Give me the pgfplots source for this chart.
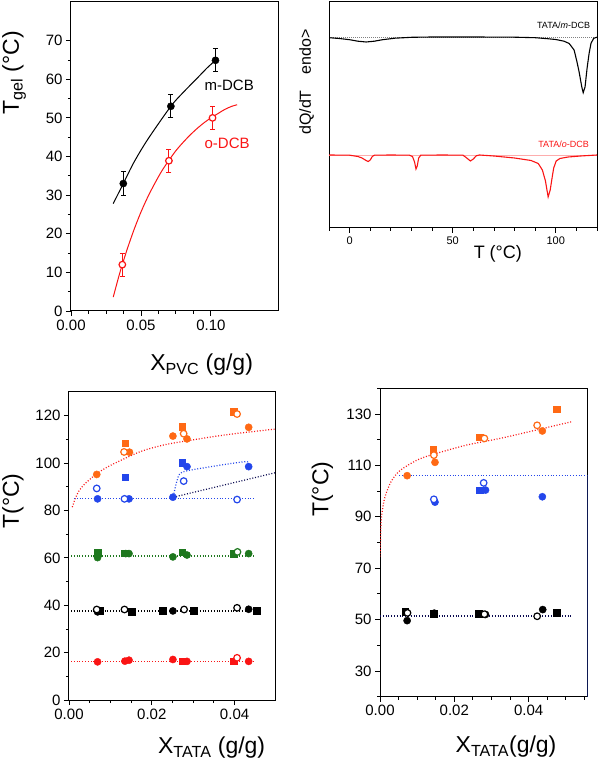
\documentclass[border=0pt]{standalone}
\usepackage{pgfplots}
\pgfplotsset{compat=1.18}
\usepackage{fontspec}
\setmainfont{Liberation Sans}
\definecolor{cor}{RGB}{255,105,20}
\definecolor{cbl}{RGB}{35,70,235}
\definecolor{cgr}{RGB}{30,120,30}
\definecolor{crd}{RGB}{250,20,20}
\definecolor{cnv}{RGB}{10,10,80}
\pgfplotsset{
  /pgf/number format/assume math mode=true,
  base/.style={scale only axis, axis line style={line width=1pt}, tick pos=left, tick align=outside,
    major tick length=5pt, minor tick length=3pt, every tick/.style={black, line width=0.8pt},
    tick label style={font=\fontsize{15}{18}\selectfont},
    label style={font=\fontsize{23}{27}\selectfont}},
  fx/.style={scaled x ticks=false, xticklabel style={/pgf/number format/fixed, /pgf/number format/fixed zerofill, /pgf/number format/precision=2}},
  fl/.style={only marks, mark=*, mark size=3.6pt, mark options={draw=#1, fill=#1}},
  sq/.style={only marks, mark=square*, mark size=3.3pt, mark options={draw=#1, fill=#1}},
  op/.style={only marks, mark=*, mark size=3.3pt, mark options={draw=#1, fill=white, line width=1.2pt}},
  dl/.style={draw=#1, line width=1.2pt, dash pattern=on 1pt off 1.8pt, no marks},
}
\begin{document}
\begin{tikzpicture}
\path[use as bounding box] (0,0) rectangle (600pt,764pt);
% ---------- Panel 1 ----------
\begin{axis}[base, fx, at={(71pt,453pt)}, anchor=south west, width=207pt, height=309pt,
  xmin=0, xmax=0.148, ymin=0, ymax=80,
  xtick={0,0.05,0.1}, minor x tick num=3,
  ytick={0,10,...,70}, minor y tick num=1,
  xlabel={X\textsubscript{PVC} (g/g)}, ylabel={T\textsubscript{gel} (°C)},
  xlabel style={at={(axis description cs:0.631,-0.1748)}, anchor=center},
  ylabel style={at={(axis description cs:-0.2754,0.77)}, anchor=center}]
\addplot[black, line width=1pt, smooth, no marks] coordinates {(0.0302,27.8)(0.0374,33)(0.045,38.5)(0.055,44.5)(0.0714,53)(0.08,56.5)(0.09,60.2)(0.0975,63)(0.1033,64.9)};
\addplot[crd, line width=1pt, smooth, no marks] coordinates {(0.0302,3.6)(0.035,10.0)(0.04,15.8)(0.045,21.0)(0.05,25.6)(0.055,29.6)(0.06,33.1)(0.065,36.3)(0.07,39.0)(0.075,41.5)(0.08,43.6)(0.085,45.5)(0.09,47.2)(0.095,48.7)(0.10,50.0)(0.105,51.1)(0.11,52.2)(0.115,53.0)(0.1188,53.4)};
\addplot[black, mark=*, mark size=3.6pt, only marks, error bars/.cd, y dir=both, y explicit, error bar style={line width=0.9pt}, error mark options={rotate=90, mark size=2.5pt, line width=0.9pt}] coordinates {(0.0374,33) +- (0,3) (0.0714,53) +- (0,3) (0.1033,64.9) +- (0,3)};
\addplot[crd, mark=*, mark size=3.3pt, only marks, mark options={fill=white, line width=1.2pt}, error bars/.cd, y dir=both, y explicit, error bar style={line width=0.9pt}, error mark options={rotate=90, mark size=2.5pt, line width=0.9pt}] coordinates {(0.0367,12) +- (0,3) (0.070,38.9) +- (0,3) (0.1012,50) +- (0,3)};
\node[anchor=west, font=\fontsize{15}{18}\selectfont] at (axis cs:0.093,58.4) {m-DCB};
\node[anchor=west, text=crd, font=\fontsize{15}{18}\selectfont] at (axis cs:0.093,43.4) {o-DCB};
\end{axis}
% ---------- Panel 2 ----------
\begin{axis}[base, at={(329pt,536pt)}, anchor=south west, width=268pt, height=226pt,
  xmin=-10, xmax=120, ymin=0, ymax=226,
  xtick={0,50,100}, minor xtick={-10,10,20,30,40,60,70,80,90,110,120}, ytick=\empty,
  tick label style={font=\fontsize{11}{13}\selectfont},
  label style={font=\fontsize{16}{19}\selectfont},
  xlabel={T (°C)}, ylabel={dQ/dT\quad endo>},
  xlabel style={at={(axis description cs:0.63,-0.115)}, anchor=center, font=\fontsize{18}{21}\selectfont},
  ylabel style={at={(axis description cs:-0.0832,0.646)}, anchor=center}]
\addplot[gray, line width=0.8pt, dash pattern=on 1pt off 1pt, no marks] coordinates {(-10,191)(120,191)};
\addplot[crd!35, line width=0.8pt, no marks] coordinates {(-10,73)(120,73)};
\addplot[black, line width=1.1pt, no marks] coordinates {(-10,190.3)(-5,189.5)(0,188.3)(4,186.8)(8,186)(12,186.8)(16,188.3)(22,189.8)(30,190.7)(40,191)(60,191)(80,190.8)(90,190.3)(96,189.3)(100,188.5)(104,186.8)(106.5,184.5)(108.9,178)(110.3,166)(111.3,156.3)(112.6,141.3)(113.3,135.3)(114.2,141)(115.2,160)(116.2,175)(117.1,184.7)(118.4,189.7)(120,190.8)};
\addplot[crd, line width=1.1pt, no marks] coordinates {(-10,73)(0,72.8)(4,71.5)(6,70)(8,67.5)(9,66.5)(10,68)(11,71.5)(12,72.8)(20,73)(29,72.8)(30.5,71.5)(31.5,66)(32.2,59)(32.8,62)(33.5,70)(34.5,72.8)(45,73)(55,72.8)(56.5,70.5)(58.6,67)(60,69)(61.5,72.3)(63,73)(70,72)(80,70)(88,67.5)(91.5,64.5)(93.5,58)(95,47)(96.3,31)(97.3,38)(98.2,50)(99,60)(100.2,67)(102,69.5)(106,71)(112,72)(120,73)};
\node[font=\fontsize{9}{11}\selectfont] at (axis cs:103.8,203) {TATA/\textit{m}-DCB};
\node[text=crd, font=\fontsize{9}{11}\selectfont] at (axis cs:103.8,84) {TATA/\textit{o}-DCB};
\end{axis}
% ---------- Panel 3 ----------
\begin{axis}[base, fx, at={(69pt,64pt)}, anchor=south west, width=207pt, height=308pt,
  xmin=0, xmax=0.05, ymin=0, ymax=130,
  xtick={0,0.02,0.04}, minor x tick num=3,
  ytick={0,20,...,120}, minor y tick num=1,
  xlabel={X\textsubscript{TATA} (g/g)}, ylabel={T(°C)},
  xlabel style={at={(axis description cs:0.689,-0.1558)}, anchor=center},
  ylabel style={at={(axis description cs:-0.2705,0.646)}, anchor=center}]
\addplot[dl=crd, smooth] coordinates {(0.0008,81.4)(0.0015,85)(0.0025,88.5)(0.004,91.5)(0.0067,95.5)(0.010,99)(0.0172,104.8)(0.0233,107.8)(0.0293,109.6)(0.035,111.2)(0.040,112.4)(0.045,113.4)(0.0500,114.4)};
\addplot[dl=cbl] coordinates {(0.0012,84.9)(0.0446,84.9)};
\addplot[dl=cbl, smooth] coordinates {(0.0252,85.9)(0.0261,92.6)(0.0273,96.1)(0.0333,98.2)(0.0426,100.6)(0.0432,99.4)};
\addplot[dl=cnv] coordinates {(0.0252,85.6)(0.0500,96.0)};
\addplot[dl=cgr] coordinates {(0.0005,60.8)(0.0450,60.8)};
\addplot[dl=black] coordinates {(0.0005,37.6)(0.0450,37.6)};
\addplot[dl=crd] coordinates {(0.0005,16.4)(0.0450,16.4)};
% orange
\addplot[sq=cor] coordinates {(0.01355,108.4)(0.0273,115.4)(0.0398,121.8)};
\addplot[fl=cor] coordinates {(0.0067,95.2)(0.0146,104.6)(0.0251,111.4)(0.0285,110.2)(0.0434,115.1)};
\addplot[op=cor] coordinates {(0.0133,104.7)(0.0277,112.4)(0.0406,120.7)};
% blue
\addplot[sq=cbl] coordinates {(0.01355,94.0)(0.0273,100.1)};
\addplot[fl=cbl] coordinates {(0.0069,84.9)(0.0145,84.9)(0.0251,85.6)(0.0285,98.5)(0.0434,98.5)};
\addplot[op=cbl] coordinates {(0.0067,89.3)(0.0134,84.9)(0.0277,92.4)(0.0406,84.6)};
% green
\addplot[sq=cgr] coordinates {(0.0069,62.2)(0.0135,61.9)(0.0273,62.3)(0.0398,61.8)};
\addplot[fl=cgr] coordinates {(0.0069,60.1)(0.0137,61.8)(0.0145,61.8)(0.0251,60.4)(0.0285,61.2)(0.0434,61.8)};
\addplot[op=cgr] coordinates {(0.0407,62.5)};
% black
\addplot[sq=black] coordinates {(0.0075,37.6)(0.0152,37.3)(0.0226,37.6)(0.0301,37.6)(0.0454,37.8)};
\addplot[fl=black] coordinates {(0.0069,37.2)(0.0251,37.6)(0.0434,38.3)};
\addplot[op=black] coordinates {(0.0067,38.2)(0.0134,38.2)(0.0278,38.2)(0.0406,38.9)};
% red
\addplot[sq=crd] coordinates {(0.0273,16.4)(0.0398,16.4)};
\addplot[fl=crd] coordinates {(0.0069,16.1)(0.0135,16.4)(0.0145,16.8)(0.0251,17.1)(0.0285,16.3)(0.0434,16.3)};
\addplot[op=crd] coordinates {(0.0406,17.8)};
\end{axis}
% ---------- Panel 4 ----------
\begin{axis}[base, fx, at={(380pt,67.3pt)}, anchor=south west, width=207.3pt, height=308.4pt,
  xmin=0, xmax=0.0558, ymin=20, ymax=140,
  xtick={0,0.02,0.04}, minor xtick={0.005,0.01,0.015,0.025,0.03,0.035,0.045,0.05,0.055},
  ytick={30,50,...,130}, minor ytick={20,40,...,140},
  xlabel={X\textsubscript{TATA}(g/g)}, ylabel={T(°C)},
  xlabel style={at={(axis description cs:0.608,-0.162)}, anchor=center},
  ylabel style={at={(axis description cs:-0.2774,0.673)}, anchor=center}]
\addplot[dl=cbl] coordinates {(0.0052,106.1)(0.0558,106.1)};
\addplot[cbl, line width=1pt, no marks] coordinates {(0.0558,106.1)(0.0558,20)};
\addplot[dl=cnv] coordinates {(0.0,51.4)(0.0516,51.4)};
\addplot[dl=crd, smooth] coordinates {(0.0000,74.5)(0.0003,88)(0.0008,94)(0.0015,98.5)(0.0031,104)(0.0054,108)(0.0099,112)(0.0143,114.3)(0.0233,117.9)(0.0323,120.5)(0.0413,123.5)(0.0516,127)};
% orange
\addplot[sq=cor] coordinates {(0.01435,116.2)(0.0269,120.9)(0.0475,131.8)};
\addplot[fl=cor] coordinates {(0.0073,106.0)(0.0148,111.2)(0.0437,123.4)};
\addplot[op=cor] coordinates {(0.0145,114.0)(0.0281,120.5)(0.0423,125.6)};
% blue
\addplot[sq=cbl] coordinates {(0.0269,100.4)};
\addplot[fl=cbl] coordinates {(0.0148,95.7)(0.0284,100.4)(0.0437,97.8)};
\addplot[op=cbl] coordinates {(0.0145,96.8)(0.0279,103.2)};
% black
\addplot[sq=black] coordinates {(0.0068,53.0)(0.0144,52.3)(0.0266,52.3)(0.0475,52.7)};
\addplot[fl=black] coordinates {(0.0073,49.6)(0.0146,52.5)(0.0284,52.0)(0.0438,53.9)};
\addplot[op=black] coordinates {(0.0074,52.6)(0.0281,52.1)(0.0423,51.3)};
\end{axis}
\end{tikzpicture}
\end{document}
